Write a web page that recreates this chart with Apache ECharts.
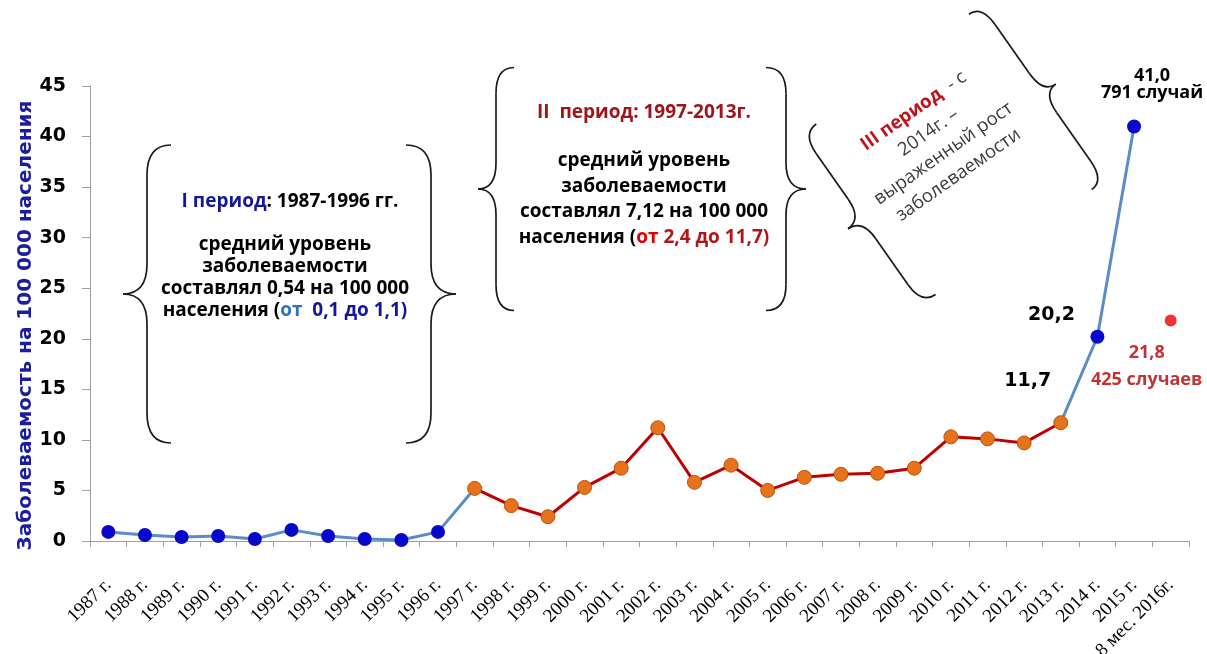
<!DOCTYPE html>
<html>
<head>
<meta charset="utf-8">
<script src="https://cdn.jsdelivr.net/npm/echarts@6/dist/echarts.min.js"></script>
<style>
    html, body { margin: 0; padding: 0; background: #fff; }
    #chart { width: 1207px; height: 654px; }
</style>
</head>
<body>
<div id="chart"></div>
<script>
    var years = ['1987 г.', '1988 г.', '1989 г.', '1990 г.', '1991 г.', '1992 г.', '1993 г.', '1994 г.',
        '1995 г.', '1996 г.', '1997 г.', '1998 г.', '1999 г.', '2000 г.', '2001 г.', '2002 г.', '2003 г.',
        '2004 г.', '2005 г.', '2006 г.', '2007 г.', '2008 г.', '2009 г.', '2010 г.', '2011 г.', '2012 г.',
        '2013 г.', '2014 г.', '2015 г.', '8 мес. 2016г.'];

    // I период 1987-1996
    var period1 = [0.9, 0.6, 0.4, 0.5, 0.2, 1.1, 0.5, 0.2, 0.1, 0.9];
    // II период 1997-2013
    var period2 = [5.2, 3.5, 2.4, 5.3, 7.2, 11.2, 5.8, 7.5, 5.0, 6.3, 6.6, 6.7, 7.2, 10.3, 10.1, 9.7, 11.7];
    // III период 2014-2015
    var period3 = [20.2, 41.0];
    var partial2016 = 21.8;
    var cases2015 = 791;
    var cases2016 = 425;

    var yTicks = [0, 5, 10, 15, 20, 25, 30, 35, 40, 45];

    var blueLine = '#5B8CC8', blueDot = '#0808CC', redLine = '#C00000', orangeDot = '#E8721C';

    function pad(n) {
        var a = [];
        for (var i = 0; i < n; i++) a.push('-');
        return a;
    }
    function fmt(v) {
        return v.toFixed(1).replace('.', ',');
    }

    // curly brace as a group of curves, tip pointing left (dir=-1) or right (dir=1)
    function brace(x, y, h, w, dir, r, rot) {
        var e = -dir * w / 2, t = dir * w / 2;
        var st = {stroke: '#1a1a1a', lineWidth: 1.7, fill: null};
        function q(x1, y1, cx, cy, x2, y2) {
            return {type: 'bezierCurve', shape: {x1: x1, y1: y1, cpx1: cx, cpy1: cy, x2: x2, y2: y2}, style: st};
        }
        function l(x1, y1, x2, y2) {
            return {type: 'line', shape: {x1: x1, y1: y1, x2: x2, y2: y2}, style: st};
        }
        return {
            type: 'group',
            x: x, y: y,
            rotation: (rot || 0) * Math.PI / 180,
            silent: true,
            children: [
                q(e, -h / 2, 0, -h / 2, 0, -h / 2 + r),
                l(0, -h / 2 + r, 0, -r),
                q(0, -r, 0, 0, t, 0),
                q(t, 0, 0, 0, 0, r),
                l(0, r, 0, h / 2 - r),
                q(0, h / 2 - r, 0, h / 2, e, h / 2)
            ]
        };
    }

    var s1 = period1.map(function (v) { return {value: v}; })
        .concat([{value: period2[0], symbol: 'none'}])
        .concat(pad(years.length - period1.length - 1));

    var s2 = pad(period1.length).concat(period2.map(function (v, i) {
        if (i === period2.length - 1) {
            return {
                value: v,
                label: {show: true, position: 'inside', offset: [-33, -42], formatter: fmt(v),
                    color: '#000', fontFamily: 'DejaVu Sans', fontWeight: 'bold', fontSize: 19}
            };
        }
        return {value: v};
    })).concat(pad(years.length - period1.length - period2.length));

    var s3 = pad(period1.length + period2.length - 1)
        .concat([{value: period2[period2.length - 1], symbol: 'none'}])
        .concat([
            {
                value: period3[0],
                label: {show: true, position: 'inside', offset: [-46, -22], formatter: fmt(period3[0]),
                    color: '#000', fontFamily: 'DejaVu Sans', fontWeight: 'bold', fontSize: 19}
            },
            {
                value: period3[1],
                label: {show: true, position: 'inside', offset: [18, -42],
                    formatter: fmt(period3[1]) + '\n' + cases2015 + ' случай',
                    color: '#000', fontFamily: 'Open Sans', fontWeight: 'bold', fontSize: 18, lineHeight: 17}
            }
        ])
        .concat(pad(1));

    var s4 = pad(years.length - 1).concat([{
        value: partial2016,
        label: {show: true, position: 'inside', offset: [-24, 46],
            formatter: fmt(partial2016) + '\n' + cases2016 + ' случаев',
            color: '#B00000', fontFamily: 'Open Sans', fontWeight: 'bold', fontSize: 18, lineHeight: 27}
    }]);

    var chart = echarts.init(document.getElementById('chart'));
    var option = {
        animation: false,
        backgroundColor: '#fff',
        grid: {left: 90, right: 18, top: 86, bottom: 113, outerBoundsMode: 'none'},
        xAxis: {
            type: 'category',
            data: years,
            boundaryGap: true,
            axisLine: {lineStyle: {color: '#A0A0A0', width: 1}},
            axisTick: {show: true, length: 6, lineStyle: {color: '#A0A0A0'}},
            axisLabel: {
                interval: 0,
                rotate: 45,
                margin: 41,
                color: '#000',
                fontFamily: 'Liberation Serif',
                fontSize: 19
            },
            splitLine: {show: false}
        },
        yAxis: {
            type: 'value',
            min: yTicks[0],
            max: yTicks[yTicks.length - 1],
            interval: 5,
            name: 'Заболеваемость на 100 000 населения',
            nameLocation: 'middle',
            nameGap: 54,
            nameMoveOverlap: false,
            nameTextStyle: {
                color: '#1C1CA0',
                fontFamily: 'DejaVu Sans',
                fontWeight: 'bold',
                fontSize: 20,
                padding: [0, 24, 0, 0]
            },
            axisLine: {show: true, lineStyle: {color: '#A0A0A0', width: 1}},
            axisTick: {show: true, length: 8, lineStyle: {color: '#A0A0A0'}},
            axisLabel: {
                margin: 24,
                color: '#000',
                fontFamily: 'DejaVu Sans',
                fontWeight: 'bold',
                fontSize: 19
            },
            splitLine: {show: false}
        },
        series: [
            {
                name: 'I период',
                type: 'line',
                data: s1,
                symbol: 'circle',
                symbolSize: 14,
                lineStyle: {color: blueLine, width: 3},
                itemStyle: {color: blueDot},
                z: 2
            },
            {
                name: 'II период',
                type: 'line',
                data: s2,
                symbol: 'circle',
                symbolSize: 14,
                lineStyle: {color: redLine, width: 3},
                itemStyle: {color: orangeDot, borderColor: '#B5560F', borderWidth: 1},
                z: 3
            },
            {
                name: 'III период',
                type: 'line',
                data: s3,
                symbol: 'circle',
                symbolSize: 14,
                lineStyle: {color: blueLine, width: 3},
                itemStyle: {color: blueDot},
                z: 2
            },
            {
                name: '8 мес. 2016',
                type: 'scatter',
                data: s4,
                symbol: 'circle',
                symbolSize: 12,
                itemStyle: {color: '#EE0000'},
                z: 4
            }
        ],
        graphic: [
            brace(147, 294, 298, 48, -1, 30),
            brace(431, 294, 298, 50, 1, 30),
            brace(496, 189, 243, 36, -1, 26),
            brace(786, 189, 243, 40, 1, 26),
            brace(1043, 93, 214, 31, 1, 24, 35),
            brace(862, 219, 208, 34, -1, 24, 35),
            {
                type: 'text', x: 290, y: 202, silent: true,
                style: {
                    text: '{a|I период}: 1987-1996 гг.',
                    align: 'center', verticalAlign: 'middle',
                    fill: '#000', fontFamily: 'Open Sans', fontWeight: 'bold', fontSize: 19,
                    rich: {a: {fill: '#16169A', fontFamily: 'Open Sans', fontWeight: 'bold', fontSize: 19}}
                }
            },
            {
                type: 'text', x: 285, y: 278, silent: true,
                style: {
                    text: 'средний уровень\nзаболеваемости\nсоставлял 0,54 на 100 000\nнаселения ({a|от}  {b|0,1 до 1,1)}',
                    align: 'center', verticalAlign: 'middle', lineHeight: 22,
                    fill: '#000', fontFamily: 'Open Sans', fontWeight: 'bold', fontSize: 19,
                    rich: {
                        a: {fill: '#2E75B6', fontFamily: 'Open Sans', fontWeight: 'bold', fontSize: 19, lineHeight: 22},
                        b: {fill: '#16169A', fontFamily: 'Open Sans', fontWeight: 'bold', fontSize: 19, lineHeight: 22}
                    }
                }
            },
            {
                type: 'text', x: 644, y: 113, silent: true,
                style: {
                    text: '{a|II  период}: 1997-2013г.',
                    align: 'center', verticalAlign: 'middle',
                    fill: '#A0151B', fontFamily: 'Open Sans', fontWeight: 'bold', fontSize: 19,
                    rich: {a: {fill: '#A0151B', fontFamily: 'Open Sans', fontWeight: 'bold', fontSize: 19}}
                }
            },
            {
                type: 'text', x: 644, y: 199, silent: true,
                style: {
                    text: 'средний уровень\nзаболеваемости\nсоставлял 7,12 на 100 000\nнаселения ({a|от} {b|2,4 до 11,7)}',
                    align: 'center', verticalAlign: 'middle', lineHeight: 25.7,
                    fill: '#000', fontFamily: 'Open Sans', fontWeight: 'bold', fontSize: 19,
                    rich: {
                        a: {fill: '#E00000', fontFamily: 'Open Sans', fontWeight: 'bold', fontSize: 19, lineHeight: 25.7},
                        b: {fill: '#B01818', fontFamily: 'Open Sans', fontWeight: 'bold', fontSize: 19, lineHeight: 25.7}
                    }
                }
            },
            {
                type: 'text', x: 936, y: 143, rotation: 35 * Math.PI / 180, silent: true,
                style: {
                    text: '{a|III период}  - с\n2014г. –\nвыраженный рост\nзаболеваемости',
                    align: 'center', verticalAlign: 'middle', lineHeight: 26,
                    fill: '#3A3A3A', fontFamily: 'Open Sans', fontSize: 18.5,
                    rich: {a: {fill: '#C0121A', fontFamily: 'Open Sans', fontWeight: 'bold', fontSize: 18.5, lineHeight: 26}}
                }
            }
        ]
    };
    chart.setOption(option);
</script>
</body>
</html>
